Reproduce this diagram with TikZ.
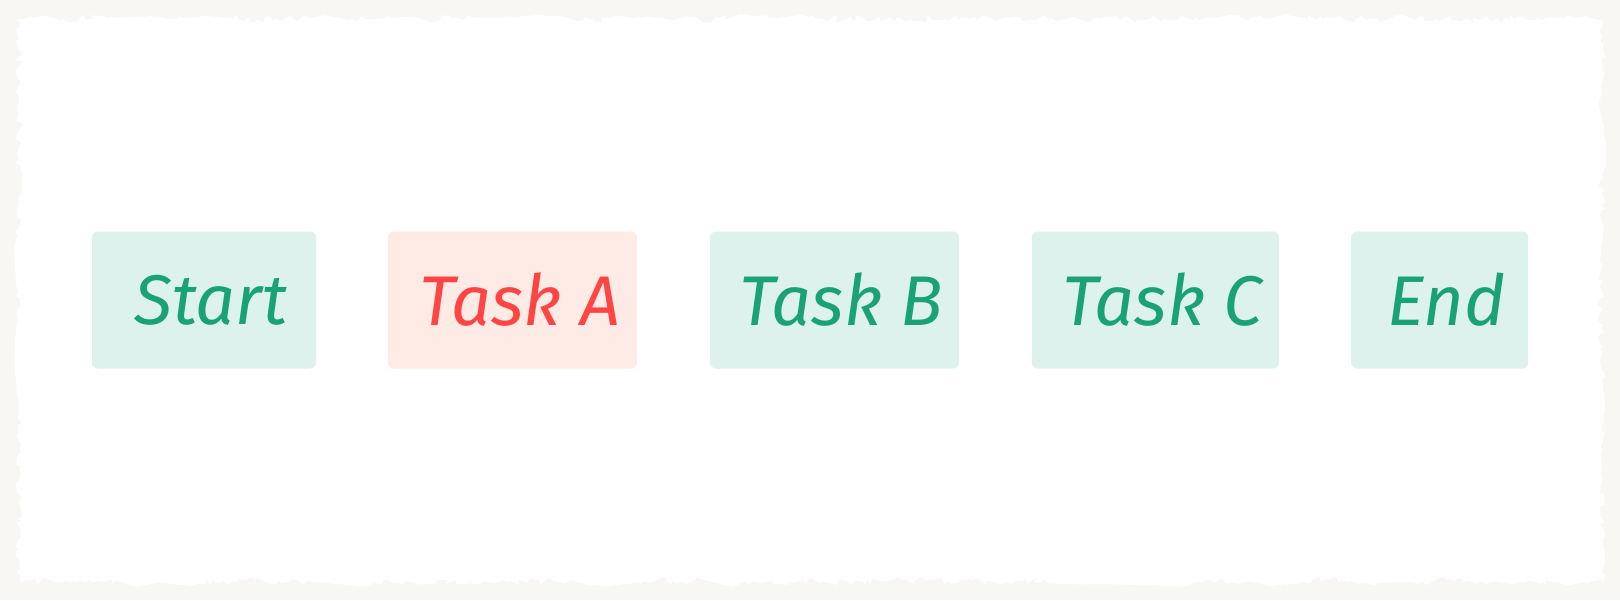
\documentclass[tikz,border=0pt]{standalone}
\usepackage{fontspec}
\newfontfamily\handfont{Fira Sans}
\usepackage{xcolor}
\usepackage{tikz}
\usetikzlibrary{decorations.pathmorphing,positioning}

\definecolor{paper}{HTML}{F8F7F4}
\definecolor{mint}{HTML}{DDF2EC}
\definecolor{leaf}{HTML}{18A276}
\definecolor{blush}{HTML}{FFEBE6}
\definecolor{coral}{HTML}{FF4444}

\begin{document}
\begin{tikzpicture}[taskbox/.style={rectangle, rounded corners=0.06cm, fill=mint, text=leaf, minimum height=1.37cm, inner sep=0pt, execute at begin node=\hspace*{0.14cm}, font=\handfont\itshape\fontsize{20}{24}\selectfont}, hotbox/.style={taskbox, fill=blush, text=coral}]
    \useasboundingbox (0,0) rectangle (16.2,6);
    \fill[paper] (0,0) rectangle (16.2,6);
    % torn sheet, coarse and fine edge
    \pgfmathsetseed{11}
    \fill[white, decorate, decoration={random steps, segment length=0.3cm, amplitude=0.07cm}] (0.2,0.2) rectangle (16.0,5.8);
    \fill[white, decorate, decoration={random steps, segment length=0.04cm, amplitude=0.04cm}] (0.19,0.19) rectangle (16.01,5.81);
    \node[taskbox, minimum width=2.24cm] (start) at (2.04, 3) {Start};
    \node[hotbox, minimum width=2.49cm] (taska) at (5.125, 3) {Task A};
    \node[taskbox, minimum width=2.49cm] (taskb) at (8.345, 3) {Task B};
    \node[taskbox, minimum width=2.47cm] (taskc) at (11.555, 3) {Task C};
    \node[taskbox, minimum width=1.77cm] (stop) at (14.395, 3) {End};
\end{tikzpicture}
\end{document}
